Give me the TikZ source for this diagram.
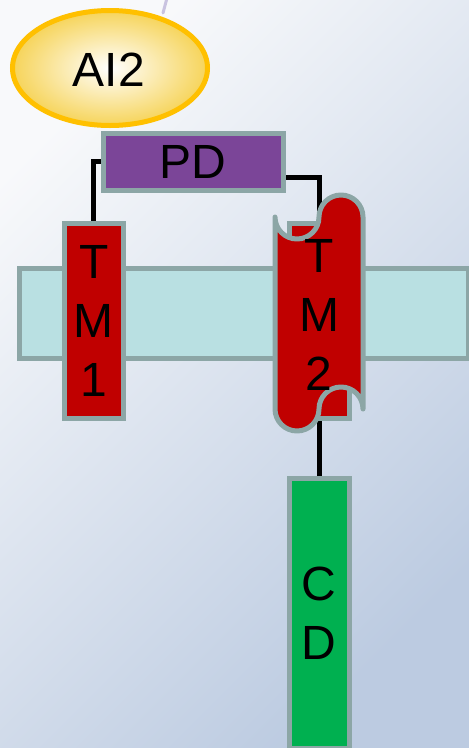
\documentclass[tikz,border=0pt]{standalone}
\usepackage{fontspec}
\setmainfont{Liberation Sans}
\usetikzlibrary{shapes.geometric,calc}
\definecolor{bordergrey}{HTML}{8CA6A6}
\definecolor{tmred}{HTML}{C00000}
\definecolor{memfill}{HTML}{B9E0E2}
\definecolor{pdpurple}{HTML}{7B4598}
\definecolor{cdgreen}{HTML}{00B050}
\definecolor{goldline}{HTML}{FFC000}
\definecolor{goldfill}{HTML}{F6D45A}
\definecolor{bgtop}{HTML}{F8F9FB}
\definecolor{bgbot}{HTML}{BCCBE1}
\definecolor{markc}{HTML}{C9C3E0}
\pgfdeclarelayer{bg}
\pgfdeclarelayer{conn}
\pgfsetlayers{bg,conn,main}
\begin{document}
\begin{tikzpicture}[x=1pt,y=-1pt,
  bigtext/.style={font=\fontsize{48}{59}\selectfont},
  box/.style={draw=bordergrey,line width=5pt,inner sep=0pt,outer sep=0pt,align=center,bigtext},
  link/.style={draw=black,line width=5pt},
  lbl/.style={inner sep=0pt,align=center,bigtext}]
\useasboundingbox (0,0) rectangle (469,748);
\begin{pgfonlayer}{bg}
  \shade[top color=bgtop,bottom color=bgbot,shading angle=45] (0,0) rectangle (469,748);
  \draw[markc,line width=3pt,line cap=round] (167,-2) -- (163,13);
\end{pgfonlayer}

% membrane
\node[box,fill=memfill,minimum width=449pt,minimum height=90pt] (mem) at (244,313.5) {};

% AI2 ligand
\node[ellipse,draw=goldline,line width=5pt,inner color=white,outer color=goldfill,
      minimum width=195pt,minimum height=115pt,inner sep=0pt] (ai2) at (110,68) {};
\node[lbl] (ai2text) at (109,70) {AI2};

% PD
\node[box,fill=pdpurple,minimum width=180pt,minimum height=57.5pt] (pd) at (193,161.75) {PD};

% TM1
\node[box,fill=tmred,minimum width=59.5pt,minimum height=194.5pt] (tm1) at (93.75,320.75) {T\\M\\1};

% TM2 (rectangle behind the scroll)
\node[box,fill=tmred,minimum width=60pt,minimum height=194.5pt] (tm2) at (319,320.75) {};

% TM2 scroll outline
\draw[draw=bordergrey,line width=5pt,fill=tmred,line join=round]
  (275,217) .. controls (275,229.15) and (284.85,239) .. (297,239)
  .. controls (309.15,239) and (319,229.15) .. (319,217)
  .. controls (319,204.85) and (328.85,195) .. (341,195)
  .. controls (353.15,195) and (363,204.85) .. (363,217)
  -- (363,409)
  .. controls (363,396.85) and (353.15,387) .. (341,387)
  .. controls (328.85,387) and (319,396.85) .. (319,409)
  .. controls (319,421.15) and (309.15,431) .. (297,431)
  .. controls (284.85,431) and (275,421.15) .. (275,409)
  -- cycle;
\node[lbl] (tm2text) at (319,315) {T\\M\\2};

% CD
\node[box,fill=cdgreen,minimum width=60pt,minimum height=270pt] (cd) at (319,613) {C\\D};

% connectors
\begin{pgfonlayer}{conn}
  \draw[link] (pd.west) -| (tm1.north);
  \draw[link] ($(pd.east)+(0,16)$) -| (tm2.north);
  \draw[link] (tm2.south) -- (cd.north);
\end{pgfonlayer}
\end{tikzpicture}
\end{document}
